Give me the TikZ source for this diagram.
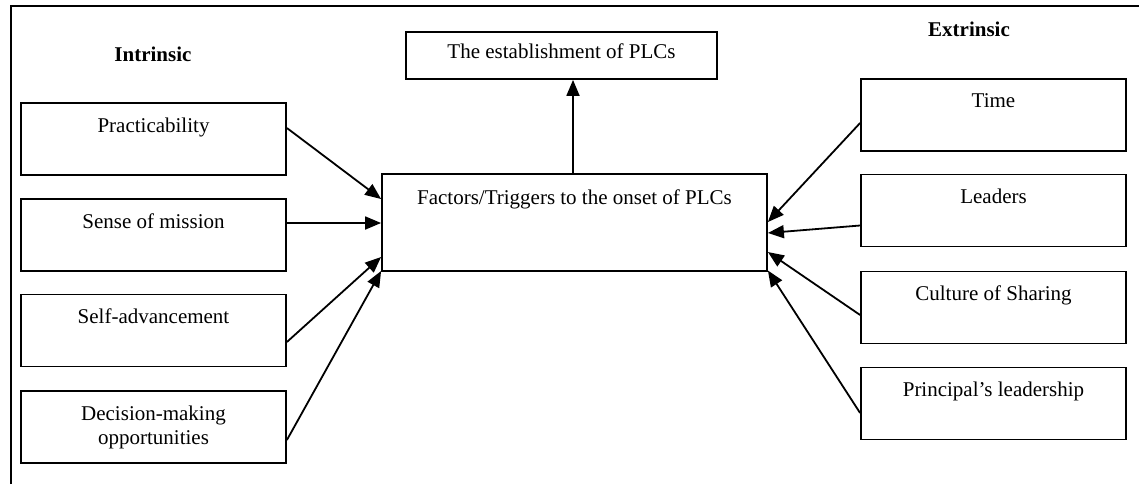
\documentclass[tikz,border=0pt]{standalone}
\usepackage{fontspec}
\setmainfont{Liberation Serif}
\usetikzlibrary{arrows.meta}

\begin{document}
\begin{tikzpicture}[x=1pt, y=-1pt, line width=1.8pt,
    every node/.style={font=\fontsize{21}{24}\selectfont},
    box/.style={draw, inner sep=0pt, minimum width=265pt, text height=29pt, text depth=43pt},
    twobox/.style={draw, inner sep=0pt, minimum width=265pt, minimum height=72pt, align=center},
    head/.style={font=\fontsize{21}{24}\selectfont\bfseries},
    arr/.style={-{Triangle[length=16pt,width=13pt]}}]
    \useasboundingbox (0,0) rectangle (1139,484);
    \draw [-] (11,484) -- (11,6) -- (1139,6);
    % headings
    \node[head] (intr) at (153,54) {Intrinsic};
    \node[head] (extr) at (969,29) {Extrinsic};
    % centre
    \node[draw, inner sep=0pt, minimum width=385pt, text height=30pt, text depth=67pt]
        (factors) at (574.5,222.5) {Factors/Triggers to the onset of PLCs};
    \node[draw, inner sep=0pt, minimum width=311pt, text height=27pt, text depth=20pt]
        (estab) at (561.5,55.5) {The establishment of PLCs};
    % left
    \node[box] (prac) at (153.5,139) {Practicability};
    \node[box] (mission) at (153.5,235) {Sense of mission};
    \node[box] (selfadv) at (153.5,330.5) {Self-advancement};
    \node[twobox] (decision) at (153.5,427) {Decision-making\\opportunities};
    % right
    \node[box] (time) at (993.5,115) {Time};
    \node[box] (leaders) at (993.5,210.5) {Leaders};
    \node[box] (culture) at (993.5,307.5) {Culture of Sharing};
    \node[box] (principal) at (993.5,403.5) {Principal’s leadership};
    % arrows
    \draw[arr] (factors.north -| 573,0) -- (estab.south -| 573,0);
    \draw[arr] ([yshift=11pt]prac.east) -- ([yshift=23.5pt]factors.west);
    \draw[arr] ([yshift=12pt]mission.east) -- ([yshift=-0.5pt]factors.west);
    \draw[arr] ([yshift=-11.5pt]selfadv.east) -- ([yshift=-34.5pt]factors.west);
    \draw[arr] ([yshift=-13pt]decision.east) -- ([yshift=-48.5pt]factors.west);
    \draw[arr] ([yshift=-8pt]time.west) -- ([yshift=0.5pt]factors.east);
    \draw[arr] ([yshift=-15pt]leaders.west) -- ([yshift=-10.5pt]factors.east);
    \draw[arr] ([yshift=-7.5pt]culture.west) -- ([yshift=-29.5pt]factors.east);
    \draw[arr] ([yshift=-9.5pt]principal.west) -- ([yshift=-48pt]factors.east);
\end{tikzpicture}
\end{document}
